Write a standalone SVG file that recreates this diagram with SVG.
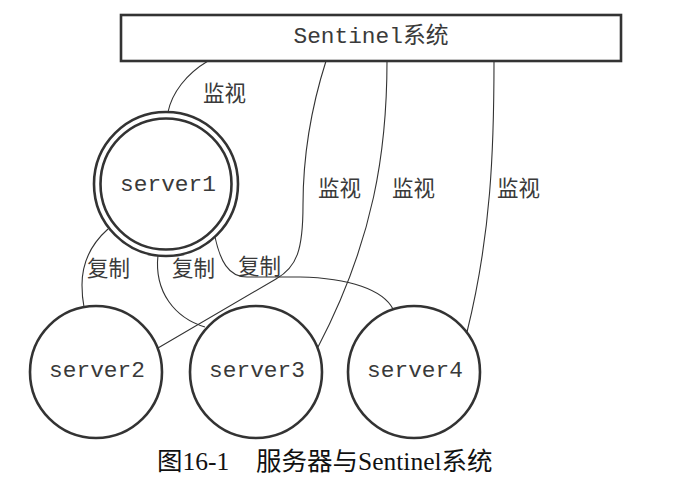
<svg xmlns="http://www.w3.org/2000/svg" width="675" height="494" viewBox="0 0 675 494">
<style>
.node{fill:#fff;stroke:#333;stroke-width:2.6}
.mono{font-family:"Liberation Mono","Noto Sans CJK SC",monospace;font-size:22.8px;fill:#3a3a3a}
.lbl{font-family:"Noto Sans CJK SC",sans-serif;font-size:21.5px;fill:#3a3a3a}
.cap{font-family:"Liberation Serif","Noto Sans CJK SC",serif;font-size:25.5px;fill:#111}
.edge{fill:none;stroke:#333;stroke-width:1.1}
</style>
<rect width="675" height="494" fill="#fff"/>
<g id="connectors">
<path class="edge" d="M208,61 C186,74 172,93 168,112"/>
<path class="edge" d="M326,61 C312,105 303,150 303,205 C303,250 297,267 276,279 L158,348"/>
<path class="edge" d="M387,61 C387,150 374,240 318,347"/>
<path class="edge" d="M494,61 C494,150 491,235 467,332"/>
<path class="edge" d="M108,229 C90,245 82,265 82,285 C82,296 83,302 84,307"/>
<path class="edge" d="M158,255 C154,292 175,318 205,327"/>
<path class="edge" d="M215,237 C220,260 228,277 247,277 L300,277 C350,278 383,290 393,309"/>
</g>
<g id="sentinel">
<rect class="node" x="121" y="15" width="500" height="46"/>
<text class="mono" x="371" y="43" text-anchor="middle">Sentinel系统</text>
</g>
<g id="server1">
<circle class="node" cx="166" cy="184" r="72"/>
<circle class="node" cx="166" cy="184" r="65.5"/>
<text class="mono" x="168" y="191" text-anchor="middle">server1</text>
</g>
<g id="server2">
<circle class="node" cx="96" cy="372" r="66"/>
<text class="mono" x="97" y="377" text-anchor="middle">server2</text>
</g>
<g id="server3">
<circle class="node" cx="256" cy="372" r="66"/>
<text class="mono" x="257" y="377" text-anchor="middle">server3</text>
</g>
<g id="server4">
<circle class="node" cx="414" cy="372" r="66"/>
<text class="mono" x="415" y="377" text-anchor="middle">server4</text>
</g>
<g id="labels">
<text class="lbl" x="203" y="101">监视</text>
<text class="lbl" x="318" y="196">监视</text>
<text class="lbl" x="392" y="196">监视</text>
<text class="lbl" x="497" y="196">监视</text>
<text class="lbl" x="87" y="276">复制</text>
<text class="lbl" x="172" y="276">复制</text>
<text class="lbl" x="238" y="274">复制</text>
</g>
<g id="caption">
<text class="cap" y="470"><tspan x="157">图16-1</tspan><tspan x="256">服务器与Sentinel系统</tspan></text>
</g>
</svg>
